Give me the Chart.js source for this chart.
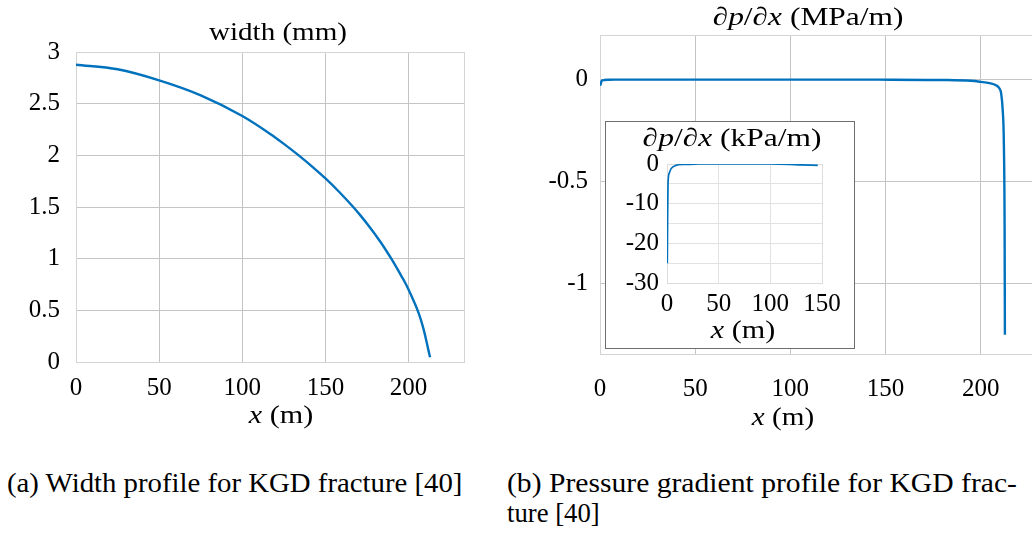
<!DOCTYPE html>
<html><head><meta charset="utf-8">
<script src="https://cdn.jsdelivr.net/npm/chart.js@4.4.1/dist/chart.umd.min.js"></script>
<style>
html,body{margin:0;padding:0;width:1032px;height:533px;overflow:hidden;background:#fff;}
#root{position:relative;width:1032px;height:533px;overflow:hidden;font-family:'Liberation Serif','Tinos','Times New Roman',serif;color:#000;}
canvas{position:absolute;display:block;}
.lbl{position:absolute;white-space:nowrap;line-height:1;font-size:25.5px;transform-origin:center center;}
.cap{position:absolute;white-space:nowrap;line-height:1;font-size:27px;transform-origin:left center;}
#insetBox{position:absolute;left:605px;top:121px;width:248px;height:226px;border:1px solid #6e6e6e;background:#fff;}
</style></head>
<body><div id="root">
<canvas id="cw" width="480" height="440" style="left:0;top:0"></canvas>
<canvas id="cp" width="560" height="440" style="left:520px;top:0"></canvas>
<div id="insetBox"><canvas id="ci" width="248" height="226" style="left:0;top:0"></canvas></div>

<div class="lbl" data-cx="277.5" data-cy="31.7" data-w="138">width (mm)</div>
<div class="lbl" data-cx="280.8" data-cy="415" data-w="65"><i>x</i> (m)</div>
<div class="lbl" data-cx="807.5" data-cy="16.7" data-w="191">∂<i>p</i>/∂<i>x</i> (MPa/m)</div>
<div class="lbl" data-cx="783" data-cy="416.7" data-w="63"><i>x</i> (m)</div>
<div class="lbl" data-cx="731.5" data-cy="137.5" data-w="179">∂<i>p</i>/∂<i>x</i> (kPa/m)</div>
<div class="lbl" data-cx="742.5" data-cy="330" data-w="65"><i>x</i> (m)</div>

<div class="cap" data-lx="6.7" data-cy="483" data-w="455">(a) Width profile for KGD fracture [40]</div>
<div class="cap" data-lx="507" data-cy="483" data-w="510">(b) Pressure gradient profile for KGD frac-</div>
<div class="cap" data-lx="507" data-cy="513" data-w="93">ture [40]</div>
</div>
<script>
// ---- data ----
const widthX = [0, 25, 50, 75, 100, 117, 125, 134.1, 142, 150, 158, 166.3, 171, 176.3, 183, 189.4, 192, 195.4, 198, 200, 202, 204, 205.4, 207, 208.4, 209.7, 210.8, 211.9, 212.9];
const widthY = [2.877, 2.833, 2.726, 2.581, 2.381, 2.205, 2.111, 1.997, 1.891, 1.776, 1.650, 1.507, 1.419, 1.312, 1.164, 1.005, 0.935, 0.839, 0.765, 0.70, 0.63, 0.556, 0.50, 0.428, 0.352, 0.272, 0.195, 0.115, 0.045];

const gradX = [0, 0.3, 0.6, 1, 2.2, 4.2, 8, 17.6, 30, 60, 100, 146, 180, 195, 200, 204.6, 208.1, 209.9, 210.8, 211.6, 212.2, 212.6, 212.75];
const gradY = [-0.026, -0.025, -0.0132, -0.0049, -0.0023, -0.0011, -0.0004, -0.0001, 0, 0, 0, -0.00035, -0.002, -0.006, -0.011, -0.017, -0.028, -0.044, -0.069, -0.15, -0.31, -0.72, -1.253];

const insetX = [0.3, 0.6, 1, 2.2, 4.2, 8, 17.6, 30, 50, 100, 127, 146];
const insetY = [-25, -13.2, -4.9, -2.3, -1.1, -0.4, -0.1, 0, 0.05, 0, -0.2, -0.35];

const widthXTicks = [0, 50, 100, 150, 200];
const widthXLabels = ['0', '50', '100', '150', '200'];
const widthYTicks = [0, 0.5, 1, 1.5, 2, 2.5, 3];
const widthYLabels = ['0', '0.5', '1', '1.5', '2', '2.5', '3'];
const gradXTicks = [0, 50, 100, 150, 200];
const gradXLabels = ['0', '50', '100', '150', '200'];
const gradYTicks = [-1, -0.5, 0];
const gradYLabels = ['-1', '-0.5', '0'];
const insetXTicks = [0, 50, 100, 150];
const insetXLabels = ['0', '50', '100', '150'];
const insetYTicks = [-30, -25, -20, -15, -10, -5, 0];
const insetYLabels = ['-30', '', '-20', '', '-10', '', '0'];

const FONT = "'Liberation Serif', 'Tinos', 'Times New Roman', serif";

// ---- text fitting ----
document.querySelectorAll('.lbl').forEach(el => {
  el.style.left = el.dataset.cx + 'px';
  el.style.top = el.dataset.cy + 'px';
  const k = parseFloat(el.dataset.w) / el.offsetWidth;
  el.style.transform = 'translate(-50%,-50%) scaleX(' + k.toFixed(3) + ')';
});
document.querySelectorAll('.cap').forEach(el => {
  el.style.left = el.dataset.lx + 'px';
  el.style.top = el.dataset.cy + 'px';
  const k = parseFloat(el.dataset.w) / el.offsetWidth;
  el.style.transform = 'translateY(-50%) scaleX(' + k.toFixed(3) + ')';
});

// ---- charts ----
Chart.defaults.font.family = FONT;
Chart.defaults.font.size = 25;
Chart.defaults.color = '#000';

const framePlugin = {
  id: 'frame',
  beforeDatasetsDraw(chart, args, o) {
    const a = chart.chartArea;
    const c = chart.ctx;
    c.save();
    c.strokeStyle = o.color || '#ccc';
    c.lineWidth = 1;
    const l = Math.round(a.left) + 0.5, t = Math.round(a.top) + 0.5;
    const r = Math.round(a.right) + 0.5, b = Math.round(a.bottom) + 0.5;
    c.strokeRect(l, t, r - l, b - t);
    c.restore();
  }
};

function pts(xs, ys) { return xs.map((x, i) => ({ x: x, y: ys[i] })); }

function makeChart(id, cfg) {
  return new Chart(document.getElementById(id), {
    type: 'scatter',
    data: { datasets: [{
      data: pts(cfg.xs, cfg.ys),
      showLine: true,
      borderColor: 'rgb(0,114,189)',
      backgroundColor: 'rgb(0,114,189)',
      borderWidth: cfg.lw,
      pointRadius: 0,
      cubicInterpolationMode: 'monotone',
      fill: false
    }] },
    options: {
      responsive: false,
      animation: false,
      devicePixelRatio: 1,
      events: [],
      layout: { padding: cfg.pad },
      plugins: { legend: { display: false }, tooltip: { enabled: false }, frame: { color: cfg.frame } },
      scales: {
        x: {
          type: 'linear', min: cfg.xmin, max: cfg.xmax,
          afterBuildTicks: s => { s.ticks = cfg.xt.map(v => ({ value: v })); },
          afterFit: s => { s.height = cfg.xh; },
          grid: { color: cfg.grid, lineWidth: 1, drawTicks: false },
          border: { color: cfg.frame, width: 1 },
          ticks: { padding: cfg.xpad, maxRotation: 0, autoSkip: false, font: { family: FONT, size: 25 }, callback: (v, i) => cfg.xl[i] }
        },
        y: {
          type: 'linear', min: cfg.ymin, max: cfg.ymax,
          afterBuildTicks: s => { s.ticks = cfg.yt.map(v => ({ value: v })); },
          afterFit: s => { s.width = cfg.yw; },
          grid: { color: cfg.grid, lineWidth: 1, drawTicks: false },
          border: { color: cfg.frame, width: 1 },
          ticks: { padding: cfg.ypad, autoSkip: false, font: { family: FONT, size: 25 }, callback: (v, i) => cfg.yl[i] }
        }
      }
    },
    plugins: [framePlugin]
  });
}

makeChart('cw', {
  xs: widthX, ys: widthY, lw: 2.4,
  xmin: 0, xmax: 233.3, ymin: 0, ymax: 3,
  xt: widthXTicks, xl: widthXLabels, yt: widthYTicks, yl: widthYLabels,
  pad: { top: 52, right: 16, left: 0, bottom: 0 },
  xh: 78, yw: 76, xpad: 11, ypad: 16,
  grid: '#c4c4c4', frame: '#d4d4d4'
});

makeChart('cp', {
  xs: gradX, ys: gradY, lw: 2.4,
  xmin: 0, xmax: 233.3, ymin: -1.348, ymax: 0.219,
  xt: gradXTicks, xl: gradXLabels, yt: gradYTicks, yl: gradYLabels,
  pad: { top: 35, right: 36, left: 0, bottom: 0 },
  xh: 86, yw: 80, xpad: 20, ypad: 12,
  grid: '#c4c4c4', frame: '#d4d4d4'
});

makeChart('ci', {
  xs: insetX, ys: insetY, lw: 1.7,
  xmin: 0, xmax: 150, ymin: -30, ymax: 0,
  xt: insetXTicks, xl: insetXLabels, yt: insetYTicks, yl: insetYLabels,
  pad: { top: 42, right: 32, left: 0, bottom: 0 },
  xh: 65, yw: 61, xpad: 6, ypad: 8,
  grid: '#e2e2e2', frame: '#dcdcdc'
});
</script>
</body></html>
